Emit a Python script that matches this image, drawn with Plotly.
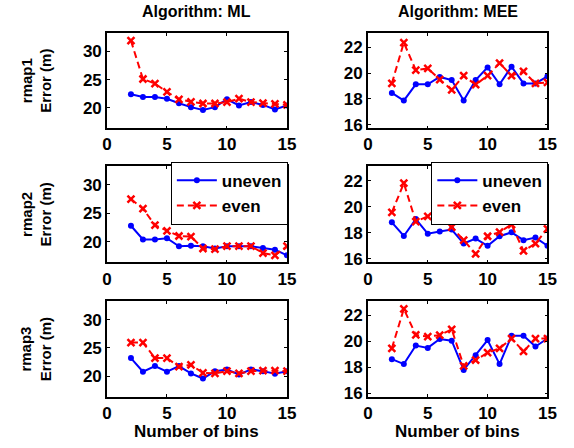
import plotly.graph_objects as go

bins = list(range(2, 16))

# ML algorithm
ml_rmap1_uneven = [22.4, 21.9, 21.9, 21.6, 20.8, 20.1, 19.6, 20.1, 21.5, 20.4, 21.0, 20.5, 19.7, 20.4]
ml_rmap1_even   = [31.9, 25.1, 24.3, 22.8, 21.5, 21.05, 20.75, 20.75, 21.0, 21.6, 21.0, 20.8, 20.7, 20.5]
ml_rmap2_uneven = [22.8, 20.4, 20.4, 20.6, 19.2, 19.3, 19.2, 18.8, 19.2, 19.2, 19.2, 18.9, 18.6, 17.6]
ml_rmap2_even   = [27.5, 25.8, 22.9, 21.9, 21.0, 20.9, 18.8, 18.7, 19.2, 19.2, 19.2, 18.0, 17.6, 19.2]
ml_rmap3_uneven = [23.2, 20.8, 21.8, 20.8, 21.8, 20.5, 19.6, 20.9, 21.2, 20.3, 21.2, 20.9, 20.45, 20.9]
ml_rmap3_even   = [25.95, 25.95, 23.2, 23.2, 21.7, 22.0, 20.6, 20.5, 20.9, 20.5, 20.9, 21.0, 21.0, 20.9]

# MEE algorithm
mee_rmap1_uneven = [18.46, 17.87, 19.13, 19.13, 19.7, 19.46, 17.87, 19.46, 20.44, 19.13, 20.5, 19.2, 19.2, 19.75]
mee_rmap1_even   = [19.2, 22.36, 20.23, 20.36, 19.5, 18.7, 19.8, 19.1, 19.8, 20.77, 19.8, 20.13, 19.2, 19.28]
mee_rmap2_uneven = [18.8, 17.75, 19.05, 17.93, 18.1, 18.25, 17.17, 17.55, 17.0, 17.73, 18.03, 17.43, 17.63, 17.0]
mee_rmap2_even   = [19.56, 21.8, 18.86, 19.26, 19.18, 18.43, 17.43, 16.38, 17.73, 18.05, 18.63, 16.6, 17.17, 18.3]
mee_rmap3_uneven = [18.63, 18.25, 19.68, 19.5, 20.18, 20.05, 17.8, 18.93, 20.1, 18.25, 20.43, 20.43, 19.6, 20.22]
mee_rmap3_even   = [19.47, 22.5, 20.5, 20.37, 20.48, 20.93, 18.12, 18.55, 19.13, 19.47, 20.22, 19.23, 20.22, 20.22]

col_titles = ["Algorithm: ML", "Algorithm: MEE"]
row_labels = ["rmap1", "rmap2", "rmap3"]
x_label = "Number of bins"
x_ticks = [0, 5, 10, 15]
ml_y_ticks = [20, 25, 30]
mee_y_ticks = [16, 18, 20, 22]

W, H = 574, 448
FONT = "Liberation Sans, Arial, sans-serif"

data = [
    [(ml_rmap1_uneven, ml_rmap1_even), (mee_rmap1_uneven, mee_rmap1_even)],
    [(ml_rmap2_uneven, ml_rmap2_even), (mee_rmap2_uneven, mee_rmap2_even)],
    [(ml_rmap3_uneven, ml_rmap3_even), (mee_rmap3_uneven, mee_rmap3_even)],
]

col_px = [(104.5, 289.0), (372.0, 556.0)]
row_px = [(33.3, 130.0), (168.3, 266.0), (305.0, 402.3)]
yranges = [[16.35, 33.3], [15.72, 23.12]]
yticks = [ml_y_ticks, mee_y_ticks]

fig = go.Figure()
layout = dict(
    width=W, height=H,
    margin=dict(l=0, r=0, t=0, b=0),
    paper_bgcolor="white", plot_bgcolor="white",
    font=dict(family=FONT, color="black", size=16, weight="bold"),
    showlegend=True,
    annotations=[],
)

k = 0
for r in range(3):
    for c in range(2):
        k += 1
        xa = "xaxis" if k == 1 else f"xaxis{k}"
        ya = "yaxis" if k == 1 else f"yaxis{k}"
        xref = "x" if k == 1 else f"x{k}"
        yref = "y" if k == 1 else f"y{k}"
        x0, x1 = col_px[c]
        y0, y1 = row_px[r]
        common = dict(showline=True, linecolor="black", linewidth=1.5, mirror="allticks",
                      ticks="inside", ticklen=3, tickcolor="black", tickwidth=1,
                      showgrid=False, zeroline=False,
                      tickfont=dict(family=FONT, size=17, color="black", weight="bold"))
        layout[xa] = dict(domain=[x0 / W, x1 / W], range=[0, 15], tickvals=x_ticks,
                          anchor=yref, **common)
        layout[ya] = dict(domain=[1 - y1 / H, 1 - y0 / H], range=yranges[c], tickvals=yticks[c],
                          anchor=xref, **common)
        un, ev = data[r][c]
        legname = "legend" if c == 0 else "legend2"
        show = (r == 1)
        fig.add_trace(go.Scatter(x=bins, y=un, mode="lines+markers", name="uneven",
                                 line=dict(color="#0000ff", width=2),
                                 marker=dict(symbol="circle", size=6, color="#0000ff"),
                                 xaxis=xref, yaxis=yref, showlegend=show, legend=legname))
        fig.add_trace(go.Scatter(x=bins, y=ev, mode="lines+markers", name="even",
                                 line=dict(color="#ff0000", width=2, dash="7px,4px"),
                                 marker=dict(symbol="x-thin-open", size=7, color="#ff0000",
                                             line=dict(width=2.5, color="#ff0000")),
                                 xaxis=xref, yaxis=yref, showlegend=show, legend=legname))

# column titles and x labels
for c in range(2):
    x0, x1 = col_px[c]
    layout["annotations"].append(dict(
        text=col_titles[c], xref="paper", yref="paper",
        x=(x0 + x1) / 2 / W, y=1 - 12 / H, xanchor="center", yanchor="middle",
        showarrow=False, font=dict(family=FONT, size=16, weight="bold")))
    layout["annotations"].append(dict(
        text=x_label, xref="paper", yref="paper",
        x=(x0 + x1) / 2 / W, y=0, xanchor="center", yanchor="bottom",
        showarrow=False, borderpad=0,
        font=dict(family=FONT, size=17, weight="bold")))

# row labels
for r in range(3):
    y0, y1 = row_px[r]
    layout["annotations"].append(dict(
        text=f"{row_labels[r]}<br>Error (m)", xref="paper", yref="paper",
        x=32 / W, y=1 - (y0 + y1) / 2 / H, xanchor="center", yanchor="middle",
        textangle=-90, showarrow=False,
        font=dict(family=FONT, size=15, weight="bold")))

leg_common = dict(bgcolor="white", bordercolor="black", borderwidth=1,
                  font=dict(family=FONT, size=17, weight="bold", color="black"),
                  xanchor="left", yanchor="top", tracegroupgap=0, itemwidth=40)
layout["legend"] = dict(x=170 / W, y=1 - 164 / H, **leg_common)
layout["legend2"] = dict(x=437 / W, y=1 - 164 / H, **leg_common)

fig.update_layout(**layout)
fig.write_html("out.html")
